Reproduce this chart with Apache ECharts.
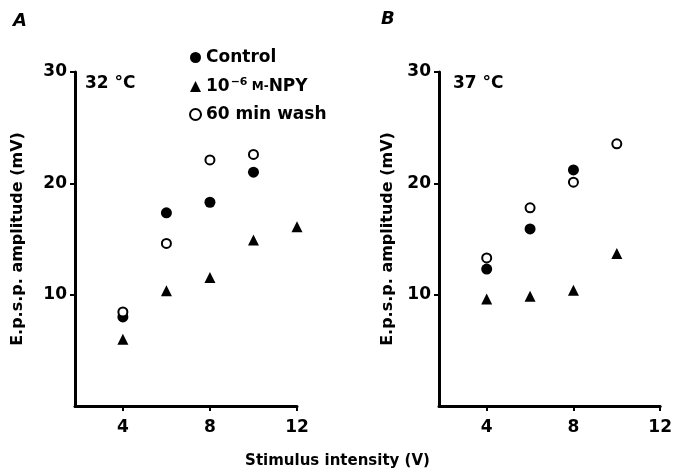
<!DOCTYPE html>
<html><head><meta charset="utf-8">
<script src="https://cdn.jsdelivr.net/npm/echarts@6/dist/echarts.min.js"></script>
<style>html,body{margin:0;padding:0;background:#fff}#c{width:675px;height:473px}</style>
</head><body><div id="c"></div>
<script>
// Panel A (32 °C)
const xA_control = [4, 6, 8, 10];
const yA_control = [8.0, 17.35, 18.3, 21.0];
const xA_npy = [4, 6, 8, 10, 12];
const yA_npy = [6.0, 10.35, 11.55, 14.9, 16.1];
const xA_wash = [4, 6, 8, 10];
const yA_wash = [8.45, 14.6, 22.1, 22.6];
// Panel B (37 °C)
const xB_control = [4, 6, 8];
const yB_control = [12.3, 15.9, 21.2];
const xB_npy = [4, 6, 8, 10];
const yB_npy = [9.6, 9.85, 10.4, 13.7];
const xB_wash = [4, 6, 8, 10];
const yB_wash = [13.3, 17.8, 20.1, 23.55];
const xTicks = [4, 8, 12];
const yTicks = [10, 20, 30];

const FONT = 'DejaVu Sans';
const pairs = (xs, ys) => xs.map((x, i) => [x, ys[i]]);

function xAxis(gi) {
  return {
    type: 'value', gridIndex: gi, min: 1.8, max: 12,
    axisLine: { show: true, onZero: false, lineStyle: { color: '#000', width: 3 } },
    axisTick: { show: true, customValues: xTicks, length: 5, lineStyle: { color: '#000', width: 2 } },
    axisLabel: { customValues: xTicks, color: '#000', fontFamily: FONT, fontWeight: 'bold', fontSize: 17, margin: 13 },
    splitLine: { show: false }
  };
}
function yAxis(gi, gap) {
  return {
    type: 'value', gridIndex: gi, min: 0, max: 30,
    name: 'E.p.s.p. amplitude (mV)', nameLocation: 'middle', nameGap: gap,
    nameTextStyle: { color: '#000', fontFamily: FONT, fontWeight: 'bold', fontSize: 16 },
    axisLine: { show: true, onZero: false, lineStyle: { color: '#000', width: 3 } },
    axisTick: { show: true, customValues: yTicks, length: 5, lineStyle: { color: '#000', width: 2 } },
    axisLabel: { customValues: yTicks, color: '#000', fontFamily: FONT, fontWeight: 'bold', fontSize: 17, margin: 8 },
    splitLine: { show: false }
  };
}
function mk(name, gi, data, symbol, size) {
  return {
    name, type: 'scatter', xAxisIndex: gi, yAxisIndex: gi, data,
    symbol, symbolSize: size,
    itemStyle: symbol === 'emptyCircle'
      ? { color: '#000', borderColor: '#000', borderWidth: 1.5, opacity: 1 }
      : { color: '#000', opacity: 1 }
  };
}

const chart = echarts.init(document.getElementById('c'), null, { renderer: 'canvas' });
chart.setOption({
  animation: false,
  backgroundColor: '#fff',
  grid: [
    { left: 75, top: 72, width: 222, height: 334 },
    { left: 439, top: 72, width: 224, height: 334 }
  ],
  xAxis: [xAxis(0), xAxis(1)],
  yAxis: [yAxis(0, 49), yAxis(1, 43)],
  legend: {
    orient: 'vertical', left: 184, top: 44, itemGap: 11,
    itemWidth: 11, itemHeight: 11,
    data: [
      { name: 'Control', icon: 'circle', itemStyle: { opacity: 1 } },
      { name: 'NPY', icon: 'triangle', itemStyle: { opacity: 1 } },
      { name: 'Wash', icon: 'emptyCircle', itemStyle: { opacity: 1, borderWidth: 1.5 } }
    ],
    formatter: function (n) {
      if (n === 'Control') return '{t|Control}';
      if (n === 'NPY') return '{t|10}{sup|−6}{sc| M-}{t|NPY}';
      return '{t|60 min wash}';
    },
    textStyle: {
      color: '#000', fontFamily: FONT, fontWeight: 'bold', fontSize: 17,
      rich: {
        t: { fontFamily: FONT, fontWeight: 'bold', fontSize: 17, color: '#000' },
        sup: { fontFamily: FONT, fontWeight: 'bold', fontSize: 11, color: '#000', verticalAlign: 'top', padding: [0, 0, 8, 1] },
        sc: { fontFamily: FONT, fontWeight: 'bold', fontSize: 12, color: '#000' }
      }
    }
  },
  graphic: [
    { type: 'text', left: 13, top: 12, style: { text: 'A', font: 'italic bold 18px "DejaVu Sans"', fill: '#000' } },
    { type: 'text', left: 381, top: 10, style: { text: 'B', font: 'italic bold 18px "DejaVu Sans"', fill: '#000' } },
    { type: 'text', left: 85, top: 75, style: { text: '32 °C', font: 'bold 17px "DejaVu Sans"', fill: '#000' } },
    { type: 'text', left: 453, top: 75, style: { text: '37 °C', font: 'bold 17px "DejaVu Sans"', fill: '#000' } },
    { type: 'text', left: 'center', top: 454, style: { text: 'Stimulus intensity (V)', font: 'bold 15px "DejaVu Sans"', fill: '#000' } }
  ],
  series: [
    mk('Control', 0, pairs(xA_control, yA_control), 'circle', 11),
    mk('NPY', 0, pairs(xA_npy, yA_npy), 'triangle', 11),
    mk('Wash', 0, pairs(xA_wash, yA_wash), 'emptyCircle', 9),
    mk('Control', 1, pairs(xB_control, yB_control), 'circle', 11),
    mk('NPY', 1, pairs(xB_npy, yB_npy), 'triangle', 11),
    mk('Wash', 1, pairs(xB_wash, yB_wash), 'emptyCircle', 9)
  ]
});
</script></body></html>
